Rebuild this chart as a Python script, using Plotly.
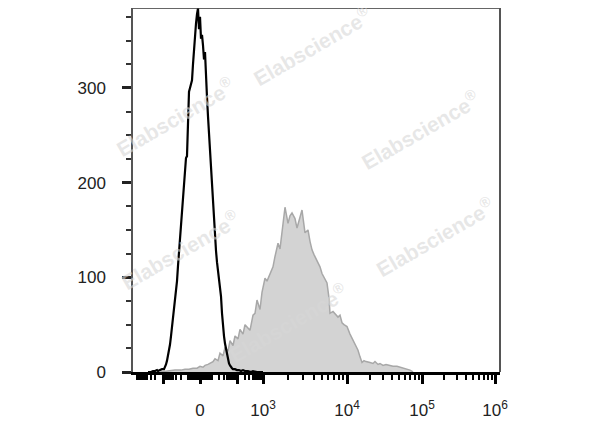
import numpy as np
import plotly.graph_objects as go

# ---- data: histogram counts vs. display channel (biexponential display scale) ----
ctrl_chan = [15, 18, 20, 22, 24, 25, 27, 29, 31, 32, 33, 34, 35, 36, 37, 38, 39, 40, 41, 42,
             43, 44, 45, 46, 47, 48, 49, 50, 51, 52, 53, 54, 55, 56, 57, 58, 59, 60, 61, 62,
             63, 64, 65, 66, 67, 68, 69, 70, 71, 72, 73, 74, 75, 76, 77, 78, 79, 80, 81, 82,
             83, 84, 85, 86, 87, 88, 89, 90, 91, 92, 93, 94, 95, 96, 97, 98, 99, 100, 102, 104,
             106, 108, 110, 112, 115, 118, 120, 124, 130]
ctrl_count = [0, 0, 1, 1, 2, 1, 2, 3, 3, 5, 8, 12, 17, 22, 29, 38, 47, 57, 66, 74,
              81, 96, 112, 127, 140, 152, 170, 192, 207, 221, 226, 228, 262, 296, 300, 303, 308, 325, 342, 358,
              368, 378, 384, 362, 375, 352, 356, 345, 330, 338, 300, 290, 270, 252, 236, 214, 192, 172, 152, 140,
              128, 116, 106, 98, 92, 80, 62, 47, 38, 30, 24, 19, 13, 9, 7, 5, 4, 3, 3, 2,
              2, 1, 2, 1, 1, 0, 1, 0, 0]

stain_chan = [27, 34, 42, 48, 52, 56, 60, 64, 67, 70, 72, 75, 77, 80, 82, 85, 87, 90, 92, 95,
              97, 100, 102, 105, 107, 110, 112, 115, 117, 120, 122, 124, 127, 129, 132, 134, 137, 140, 142, 145,
              147, 149, 152, 155, 157, 159, 162, 164, 167, 169, 172, 175, 177, 179, 181, 183, 185, 187, 189, 191,
              194, 196, 197, 200, 202, 205, 207, 209, 211, 214, 217, 220, 223, 225, 227, 229, 231, 233, 237, 240,
              242, 245, 247, 250, 253, 257, 260, 264, 267, 270, 274, 277, 280]
stain_count = [0, 1, 2, 2, 3, 3, 4, 4, 6, 5, 7, 8, 9, 11, 14, 12, 20, 17, 26, 22,
               33, 28, 38, 35, 45, 40, 50, 47, 44, 60, 62, 76, 66, 84, 99, 96, 104, 111, 122, 136,
               130, 150, 174, 157, 165, 168, 162, 152, 165, 171, 147, 150, 138, 129, 124, 120, 116, 111, 104, 100,
               94, 78, 62, 64, 62, 58, 60, 52, 50, 48, 40, 34, 28, 23, 16, 10, 12, 11, 10, 9,
               11, 8, 9, 7, 8, 7, 6, 6, 5, 4, 3, 2, 0]

x_major_vals = [0, 1e3, 1e4, 1e5, 1e6]
x_major_text = ["0", "10<sup>3</sup>", "10<sup>4</sup>", "10<sup>5</sup>", "10<sup>6</sup>"]
x_blank_major = [-100, 100]
y_major = [0, 100, 200, 300]
y_minor = [25, 50, 75, 125, 150, 175, 225, 250, 275, 325, 350, 375]

watermark = "Elabscience<sup>®</sup>"
wm_pos = [(0.488, 0.895), (0.114, 0.70), (0.782, 0.665), (0.128, 0.335), (0.823, 0.37), (0.422, 0.135)]

# ---- biexponential display transform (value -> display channel) ----
DEC_POS = {3: 130.0, 4: 214.0, 5: 289.0, 6: 362.0}
ZERO = 67.0


def biex(v):
    a = abs(v)
    s = 1 if v >= 0 else -1
    if a < 100:
        off = 37.0 * np.arcsinh(a / 7.5) / np.arcsinh(100 / 7.5)
    elif a < 1000:
        off = 37.0 + 26.0 * np.log10(a / 100.0)
    else:
        if s < 0:
            off = 63.0
        else:
            lg = np.log10(a)
            k = int(min(np.floor(lg), 5))
            return DEC_POS[k] + (lg - k) * (DEC_POS[k + 1] - DEC_POS[k])
    return ZERO + s * off


minor_vals = []
for m in range(1, 10):
    minor_vals += [m, -m, 10 * m, -10 * m]
for m in range(2, 10):
    minor_vals += [100 * m, -100 * m, 1000 * m, 10000 * m, 100000 * m]
minor_vals += [-1000]
minor_pos = sorted(biex(v) for v in minor_vals)

major_pos = [biex(v) for v in x_major_vals] + [biex(v) for v in x_blank_major]
major_text = x_major_text + ["", ""]

FONT = "Liberation Sans, Arial, sans-serif"

fig = go.Figure()
fig.add_trace(go.Scatter(x=stain_chan, y=stain_count, mode="lines", fill="tozeroy",
                         fillcolor="rgb(211,211,211)", line=dict(color="rgb(168,168,168)", width=1.5),
                         hoverinfo="skip", showlegend=False))
fig.add_trace(go.Scatter(x=ctrl_chan, y=ctrl_count, mode="lines",
                         line=dict(color="black", width=2.2),
                         hoverinfo="skip", showlegend=False))

for (xp, yp) in wm_pos:
    fig.add_annotation(x=xp, y=yp, xref="paper", yref="paper", text="<b>" + watermark + "</b>",
                       showarrow=False, textangle=-30, xanchor="center", yanchor="middle",
                       font=dict(family=FONT, size=21, color="rgba(215,215,215,0.6)"))

fig.update_xaxes(range=[0, 367], showline=True, linecolor="black", linewidth=2.5,
                 ticks="outside", tickvals=major_pos, ticktext=major_text,
                 ticklen=9, tickwidth=2.5, tickcolor="black",
                 minor=dict(tickvals=minor_pos, ticks="outside", ticklen=5, tickwidth=1.5, tickcolor="black"),
                 showgrid=False, zeroline=False, ticklabelstandoff=12,
                 tickfont=dict(family=FONT, size=17, color="#222"))
fig.update_yaxes(range=[0, 384.4], showline=True, linecolor="#555", linewidth=1.5,
                 ticks="outside", tickvals=y_major, ticktext=[str(v) for v in y_major],
                 ticklen=9, tickwidth=2.5, tickcolor="#222",
                 minor=dict(tickvals=y_minor, ticks="outside", ticklen=5, tickwidth=1.5, tickcolor="#333"),
                 showgrid=False, zeroline=False, ticklabelstandoff=13,
                 tickfont=dict(family=FONT, size=17, color="#222"))

fig.add_shape(type="line", xref="paper", yref="paper", x0=0, x1=1, y0=1, y1=1,
              line=dict(color="#333", width=1.5))
fig.add_shape(type="line", xref="paper", yref="paper", x0=1, x1=1, y0=0, y1=1,
              line=dict(color="#555", width=2))

# the page body adds an 8px offset, so the figure is sized to fit the 600x427 window
fig.update_layout(width=592, height=419, margin=dict(l=125, r=100, t=0, b=55),
                  paper_bgcolor="white", plot_bgcolor="white", showlegend=False)

fig.write_html("out.html")
